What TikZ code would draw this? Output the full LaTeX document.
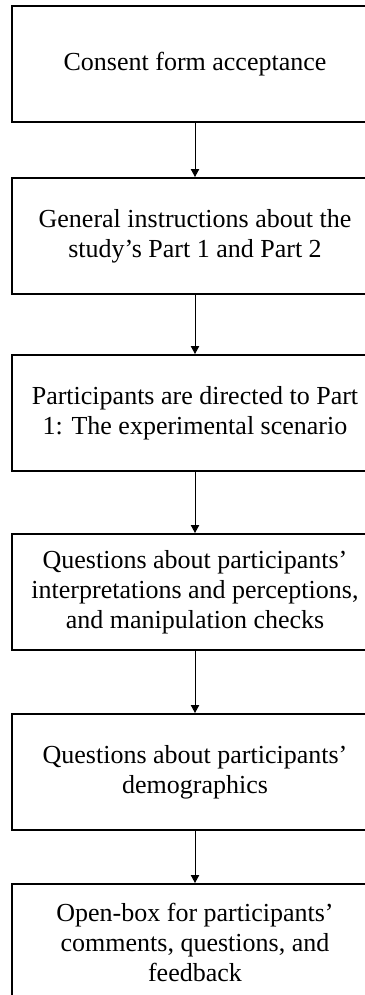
\documentclass[tikz,border=0pt]{standalone}
\usepackage{fontspec}
\setmainfont{Liberation Serif}
\usetikzlibrary{arrows.meta}

\begin{document}
\begin{tikzpicture}[x=0.5pt, y=-0.5pt, line width=1pt, stepbox/.style={
                rectangle,
                draw,
                align=center,
                minimum width=183pt,
                minimum height=58pt,
                inner xsep=0pt,
                font=\fontsize{13}{15}\selectfont
              }, flow/.style={
                line width=0.5pt,
                -{Triangle[length=4pt, width=4.2pt]}
              }]

        % keep the page as large as the reference
        \useasboundingbox (0,0) rectangle (364,995);

        % the steps, top to bottom
        \node[stepbox] (consent) at (195, 64) {Consent form acceptance};
        \node[stepbox] (instr) at (195, 236) {General instructions about the\\study’s Part 1 and Part 2};
        \node[stepbox] (scenario) at (195, 413) {Participants are directed to Part\\1: The experimental scenario};
        \node[stepbox] (checks) at (195, 592) {Questions about participants’\\interpretations and perceptions,\\and manipulation checks};
        \node[stepbox] (demo) at (195, 772) {Questions about participants’\\demographics};
        \node[stepbox] (feedback) at (195, 942) {Open-box for participants’\\comments, questions, and\\feedback};

        % arrows between the steps
        \draw[flow] (consent) -- (instr);
        \draw[flow] (instr) -- (scenario);
        \draw[flow] (scenario) -- (checks);
        \draw[flow] (checks) -- (demo);
        \draw[flow] (demo) -- (feedback);

\end{tikzpicture}
\end{document}
